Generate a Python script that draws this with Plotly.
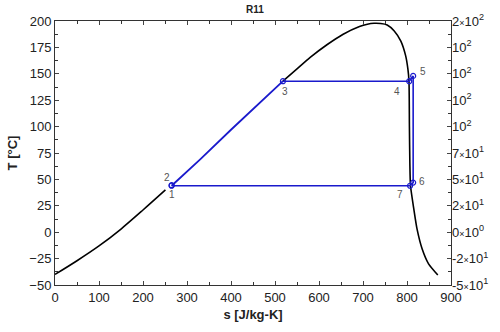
import plotly.graph_objects as go

# Saturated liquid line (s in J/kg-K, T in degC)
liq_s = [0, 50, 100, 150, 200, 251, 265, 330, 400, 438, 480, 518]
liq_t = [-40, -27, -13, 3, 21, 40, 44, 69, 97, 112, 128, 143]

# Saturated vapour line, from the top of the dome down the right side
vap_s = [518, 550, 580, 618, 655, 692, 710, 725, 740, 755, 771, 786, 797, 802, 804.5,
         805.5, 806.5, 808, 815.7, 823, 834.5, 849, 870]
vap_t = [143, 154.6, 165.5, 177.5, 187.5, 194.8, 197, 197.8, 197.6, 196.3, 190.6, 181,
         167, 154.6, 143, 100, 65, 44, 21.4, 2.6, -16, -30, -40.6]

# Cycle state points 1..7
state_labels = ["1", "2", "3", "4", "5", "6", "7"]
state_s = [265, 265, 518, 805, 814, 814, 807]
state_t = [44, 44.5, 143, 143, 148, 47, 44]

# Right-hand axis tick labels
right_vals = [200, 175, 150, 125, 100, 75, 50, 25, 0, -25, -50]
X = "<span style='font-size:9px'>×</span>"
right_text = ["2" + X + "10<sup>2</sup>", "10<sup>2</sup>", "10<sup>2</sup>", "10<sup>2</sup>",
              "10<sup>2</sup>", "7" + X + "10<sup>1</sup>", "5" + X + "10<sup>1</sup>",
              "2" + X + "10<sup>1</sup>", "0" + X + "10<sup>0</sup>", "-2" + X + "10<sup>1</sup>",
              "-5" + X + "10<sup>1</sup>"]

BLUE = "#1a1acc"
fig = go.Figure()

# Dome: liquid side up to the start of the cycle, then vapour side
liq_black = [(s, t) for s, t in zip(liq_s, liq_t) if s <= 251]
fig.add_trace(go.Scatter(x=[p[0] for p in liq_black], y=[p[1] for p in liq_black],
                         mode="lines", line=dict(color="black", width=1.6,
                                                 shape="spline", smoothing=0.8),
                         hoverinfo="skip", showlegend=False))
fig.add_trace(go.Scatter(x=vap_s, y=vap_t, mode="lines",
                         line=dict(color="black", width=1.6, shape="spline", smoothing=0.6),
                         hoverinfo="skip", showlegend=False))

# Cycle path: 2 -> 3 follows the liquid line
path_23 = [(s, t) for s, t in zip(liq_s, liq_t) if 265 <= s <= 518]
fig.add_trace(go.Scatter(x=[p[0] for p in path_23], y=[p[1] for p in path_23],
                         mode="lines", line=dict(color=BLUE, width=1.8),
                         hoverinfo="skip", showlegend=False))
cyc_s = state_s[2:] + [state_s[0]]
cyc_t = state_t[2:] + [state_t[0]]
fig.add_trace(go.Scatter(x=cyc_s, y=cyc_t, mode="lines",
                         line=dict(color=BLUE, width=1.6),
                         hoverinfo="skip", showlegend=False))
fig.add_trace(go.Scatter(x=state_s, y=state_t, mode="markers",
                         marker=dict(symbol="circle-open", size=5,
                                     color=BLUE, line=dict(width=1.2)),
                         hoverinfo="skip", showlegend=False))

# State labels
offsets = {"1": (0, -9), "2": (-5, 8), "3": (2, -10), "4": (-12, -10),
           "5": (10, 4), "6": (9, 1), "7": (-10, -9)}
for lab, s, t in zip(state_labels, state_s, state_t):
    dx, dy = offsets[lab]
    fig.add_annotation(x=s, y=t, text=lab, showarrow=False, xshift=dx, yshift=dy,
                       font=dict(size=10, color="#555555", family="Liberation Sans"))

# Invisible trace to carry the right-hand axis
fig.add_trace(go.Scatter(x=[0], y=[0], yaxis="y2", mode="markers",
                         marker=dict(opacity=0), hoverinfo="skip", showlegend=False))

axis_font = dict(size=13, color="#222222", family="Liberation Sans")
fig.update_layout(
    width=500, height=332,
    margin=dict(l=54, r=44, t=20, b=46),
    paper_bgcolor="white", plot_bgcolor="white",
    title=dict(text="<b>R11</b>", x=0.51, xanchor="center", y=0.97, yanchor="middle",
               font=dict(size=10, color="#222222", family="Liberation Sans")),
    xaxis=dict(range=[0, 900], dtick=100, ticks="inside", ticklen=4,
               showline=True, linecolor="#333333", linewidth=1, mirror="ticks",
               showgrid=False, zeroline=False, tickfont=axis_font,
               minor=dict(ticks="inside", dtick=50, ticklen=3, tickcolor="#333333"),
               title=dict(text="<b>s [J/kg-K]</b>", standoff=6,
                          font=dict(size=13, color="#222222", family="Liberation Sans"))),
    yaxis=dict(range=[-50, 200], dtick=25, ticks="inside", ticklen=4,
               showline=True, linecolor="#333333", linewidth=1, mirror="ticks",
               showgrid=False, zeroline=False, tickfont=axis_font,
               minor=dict(ticks="inside", dtick=12.5, ticklen=3, tickcolor="#333333"),
               title=dict(text="<b>T [°C]</b>", standoff=8,
                          font=dict(size=13, color="#222222", family="Liberation Sans"))),
    yaxis2=dict(range=[-50, 200], overlaying="y", side="right",
                tickvals=right_vals, ticktext=right_text, ticks="",
                showline=False, showgrid=False, zeroline=False, tickfont=axis_font),
)

fig.write_html("out.html")
